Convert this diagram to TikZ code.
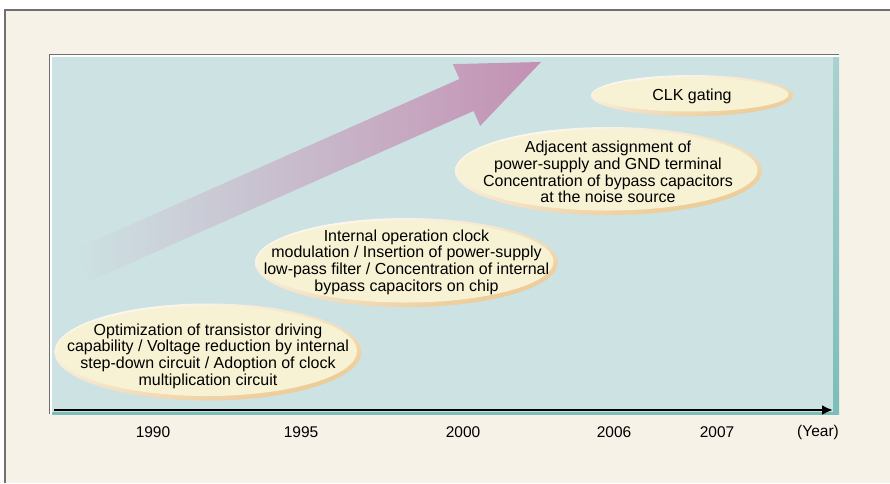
\documentclass[tikz,border=0pt]{standalone}
\usepackage{fontspec}
\setmainfont{Liberation Sans}
\usetikzlibrary{calc,shadings,arrows.meta}

\definecolor{pagecream}{HTML}{F6F2E7}
\definecolor{framegray}{HTML}{707070}
\definecolor{panelteal}{HTML}{CDE2E3}
\definecolor{paneldark}{HTML}{7CBDB8}
\definecolor{arrowpink}{HTML}{C390B3}
\definecolor{bubblefill}{HTML}{F7F2D3}
\definecolor{rimorange}{HTML}{E9C283}

\tikzset{
  bubble/.style={shade, upper left=white, upper right=rimorange!45!white,
    lower left=rimorange!45!white, lower right=rimorange,
    path picture={
      \fill[bubblefill] let \p1=($(path picture bounding box.north east)-(path picture bounding box.center)$)
        in ($(path picture bounding box.center)+(-1,-1)$) ellipse [x radius=\x1-3.5pt, y radius=\y1-3.5pt];
    }},
  bubbletext/.style={align=center, inner sep=0pt, font=\fontsize{16}{16.7}\selectfont},
  yearlabel/.style={inner sep=0pt, font=\fontsize{15.5}{18}\selectfont},
}

\begin{document}
\begin{tikzpicture}[x=1pt,y=-1pt]
  \newcommand\yearRow{432}
  \useasboundingbox (0,0) rectangle (890,483);

  % page frame
  \fill[pagecream] (5,10) rectangle (890,483);
  \draw[framegray, line width=1.5pt] (5,483) |- (890,10);

  % panel
  \fill[white] (49,54) rectangle (839,414);
  \shade[top color=panelteal!55!paneldark, bottom color=paneldark] (52,57) rectangle (839,414);
  \fill[panelteal] (52,57) rectangle (833,412);
  \draw[framegray] (49,414) |- (839,54);

  % trend arrow, fading in from the left
  \begin{scope}[shift={(466.5,95)}, rotate=23.9]
    \shade[left color=panelteal, middle color=panelteal!70!arrowpink, right color=arrowpink]
      (-420,-17.5) -- (0,-17.5) -- (0,-33.8) -- (81.5,0) -- (0,33.8) -- (0,17.5) -- (-420,17.5) -- cycle;
  \end{scope}

  % time axis
  \coordinate (t0) at (54,410);
  \coordinate (t1) at (833,410);
  \draw[line width=2.6pt, -{Latex[length=11pt,width=10pt]}] (t0) -- (t1);

  % measures
  \path[bubble] (208,352) ellipse [x radius=153.5, y radius=48.5];
  \node[bubbletext] (opt) at (208,356) {Optimization of transistor driving\\capability / Voltage reduction by internal\\step-down circuit / Adoption of clock\\multiplication circuit};

  \path[bubble] (406.5,262.5) ellipse [x radius=151.5, y radius=44.5];
  \node[bubbletext] (clkmod) at (406.5,262) {Internal operation clock\\modulation / Insertion of power-supply\\low-pass filter / Concentration of internal\\bypass capacitors on chip};

  \path[bubble] (608.5,171) ellipse [x radius=153.5, y radius=44];
  \node[bubbletext] (adjgnd) at (608,172) {Adjacent assignment of\\power-supply and GND terminal\\Concentration of bypass capacitors\\at the noise source};

  \path[bubble] (692,95.5) ellipse [x radius=101, y radius=20.5];
  \node[bubbletext] (clkgate) at (692,96) {CLK gating};

  % years
  \foreach \yr/\xx in {1990/153,1995/301,2000/463,2006/614,2007/717}{
    \node[yearlabel] (y\yr) at (\xx,\yearRow) {\yr};
  }
  \node[yearlabel] (yunit) at (818,\yearRow) {(Year)};
\end{tikzpicture}
\end{document}
